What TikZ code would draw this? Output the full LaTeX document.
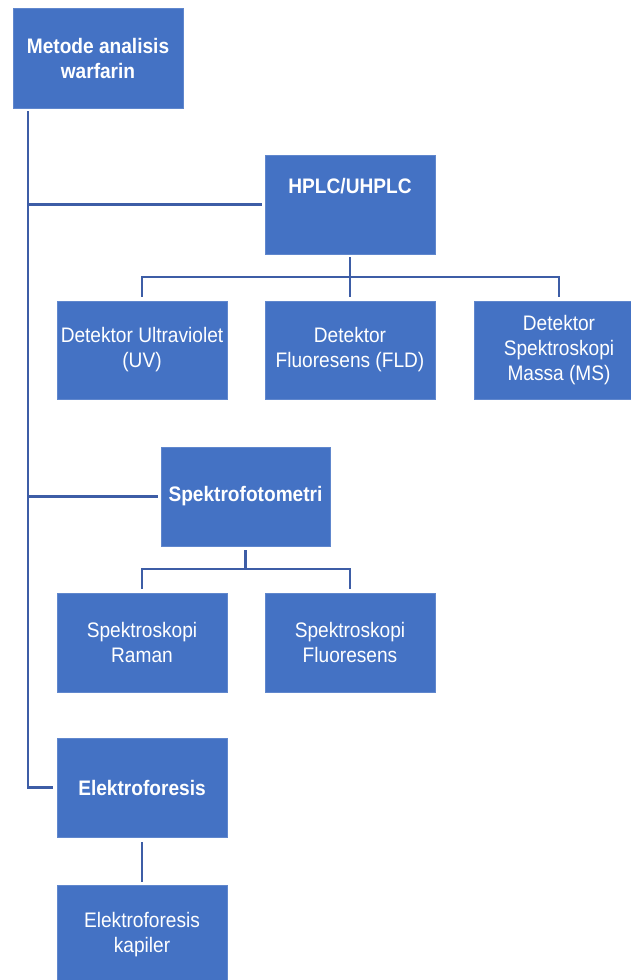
\documentclass[tikz,border=0pt]{standalone}
\usepackage{fontspec}
\setmainfont{Liberation Sans}[FakeStretch=0.91]
\usetikzlibrary{calc}
\definecolor{boxblue}{HTML}{4472C4}
\definecolor{lineblue}{HTML}{3D5DA6}
\begin{document}
\begin{tikzpicture}[x=1pt,y=-1pt,
  box/.style={rectangle,fill=boxblue,draw=boxblue!85!white,line width=0.6pt,
    minimum width=170pt,minimum height=99pt,inner sep=0pt,
    text=white,align=center,font=\fontsize{21}{25}\selectfont},
  bbox/.style={box,font=\fontsize{21}{25}\selectfont\bfseries},
  txt/.style={text=white,align=center,inner sep=0pt,font=\fontsize{21}{25}\selectfont\bfseries},
  conn/.style={draw=lineblue,line width=2.6pt}]
\useasboundingbox (0,0) rectangle (631,980);
\fill[white] (0,0) rectangle (631,980);

\node[bbox, minimum height=100pt] (root) at (98,58) {Metode analisis\\warfarin};
\node[box] (hplc) at (350,204.5) {};
\node[txt] (hplct) at (350,186) {HPLC/UHPLC};
\node[box, minimum height=98pt] (uv) at (142,350) {Detektor Ultraviolet\\(UV)};
\node[box, minimum height=98pt] (fld) at (350,350) {Detektor\\Fluoresens (FLD)};
\node[box, minimum height=98pt] (ms) at (559,350) {Detektor\\Spektroskopi\\Massa (MS)};
\node[bbox, minimum width=169pt] (spek) at (245.5,496.5) {Spektrofotometri};
\node[box] (raman) at (142,642.5) {Spektroskopi\\Raman};
\node[box] (sfl) at (350,642.5) {Spektroskopi\\Fluoresens};
\node[bbox] (elek) at (142,787.5) {Elektroforesis};
\node[box, minimum height=100pt] (kap) at (142,935) {Elektroforesis\\kapiler};

% trunk
\coordinate (trunk) at (28,111);
\draw[conn] (trunk) |- ([xshift=-4pt]elek.west);
\draw[conn] (hplc.west -| trunk) -- ([xshift=-3pt]hplc.west);
\draw[conn] (spek.west -| trunk) -- ([xshift=-3pt]spek.west);

% HPLC children
\coordinate (hbus) at (350,277);
\draw[conn] ([yshift=-3pt]hplc.south) -- ([yshift=4pt]fld.north);
\draw[conn] ([yshift=4pt]uv.north) |- (hbus) -| ([yshift=4pt]ms.north);

% Spektrofotometri children
\coordinate (sbus) at (245.5,569);
\draw[conn] ([yshift=-4pt]spek.south) -- (sbus);
\draw[conn] ([yshift=4pt]raman.north) |- (sbus) -| ([yshift=4pt]sfl.north);

% Elektroforesis child
\draw[conn] ([yshift=-5pt]elek.south) -- ([yshift=3pt]kap.north);
\end{tikzpicture}
\end{document}
